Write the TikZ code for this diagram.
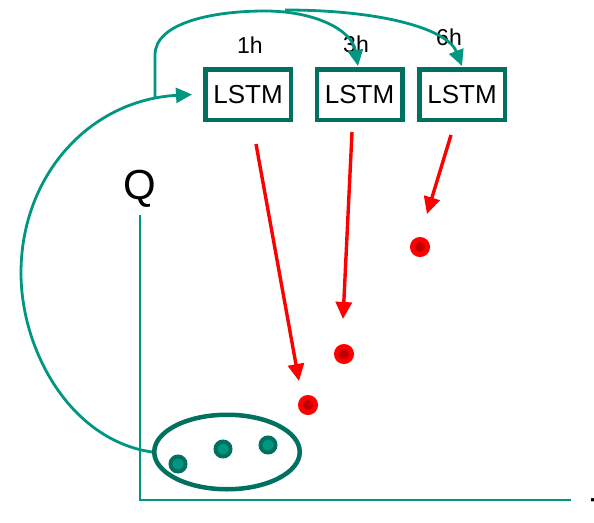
\documentclass[tikz,border=0pt]{standalone}
\usepackage{fontspec}
\setmainfont{Liberation Sans}
\usetikzlibrary{arrows.meta,shapes.geometric}
\definecolor{teal1}{HTML}{009682}
\definecolor{dteal}{HTML}{007060}
\definecolor{dred}{HTML}{C00000}
\tikzset{
  lstmbox/.style={draw=dteal, line width=4.5pt, minimum width=85.5pt, minimum height=50.5pt, inner sep=0pt, font=\fontsize{26}{28}\selectfont},
  hlabel/.style={font=\fontsize{23}{25}\selectfont, anchor=base, inner sep=0pt},
  axlabel/.style={font=\fontsize{42}{44}\selectfont, inner sep=0pt},
  tealarrow/.style={teal1, line width=2.8pt, -{Triangle[length=16pt,width=15pt]}},
  redarrow/.style={red, line width=3.4pt, -{Triangle[length=17pt,width=16pt]}},
  axis/.style={teal1, line width=2pt},
  gdot/.style={circle, draw=dteal, fill=teal1, line width=4pt, minimum size=15pt, inner sep=0pt},
  rdot/.style={circle, draw=red, fill=dred, line width=5pt, minimum size=15pt, inner sep=0pt},
}
\begin{document}
\begin{tikzpicture}[x=1pt,y=-1pt]
\useasboundingbox (0,0) rectangle (594,522);
% boxes
\node[lstmbox] (l1) at (248,94.5) {LSTM};
\node[lstmbox] (l2) at (359.5,94.5) {LSTM};
\node[lstmbox] (l3) at (462,94.5) {LSTM};
% labels
\node[hlabel] (h1) at (250,53) {1h};
\node[hlabel] (h3) at (356,52) {3h};
\node[hlabel] (h6) at (449,45) {6h};
% axes
\node[axlabel, anchor=base] (q) at (140,199) {Q};
\node[axlabel, anchor=base west] (t) at (590,527) {T};
\coordinate (ytop) at (140,215);
\coordinate (orig) at (140,500);
\coordinate (xend) at (571,500);
\draw[axis] (ytop) -- (orig) -- (xend);
% ellipse and green dots
\node[ellipse, draw=dteal, line width=4.5pt, minimum width=145.5pt, minimum height=74.5pt] (ell) at (227,452) {};
\node[gdot] (g1) at (178,464) {};
\node[gdot] (g2) at (223,449) {};
\node[gdot] (g3) at (268,445) {};
% red dots
\node[rdot] (r1) at (308,405) {};
\node[rdot] (r2) at (344,354) {};
\node[rdot] (r3) at (420,247) {};
% red arrows
\coordinate (s1) at (256,144);
\coordinate (e1) at (299,381);
\coordinate (s2) at (352,132);
\coordinate (e2) at (343,319);
\coordinate (s3) at (451,135);
\coordinate (e3) at (427,214);
\draw[redarrow] (s1) -- (e1);
\draw[redarrow] (s2) -- (e2);
\draw[redarrow] (s3) -- (e3);
% feedback arc
\coordinate (jn) at (155,97);
\draw[tealarrow] (ell.west) .. controls (70,440) and (21,350) .. (21,273)
   .. controls (21,175) and (90,100) .. ([xshift=-11pt]l1.west);
\draw[tealarrow] (jn) -- (155,55) .. controls (155,22) and (215,11) .. (265,11)
   .. controls (315,11) and (352,30) .. ([xshift=-1.5pt,yshift=1pt]l2.north);
\coordinate (s6) at (285,10);
\draw[tealarrow] (s6) .. controls (385,10) and (448,30) .. ([yshift=1pt]l3.north);
\end{tikzpicture}
\end{document}
